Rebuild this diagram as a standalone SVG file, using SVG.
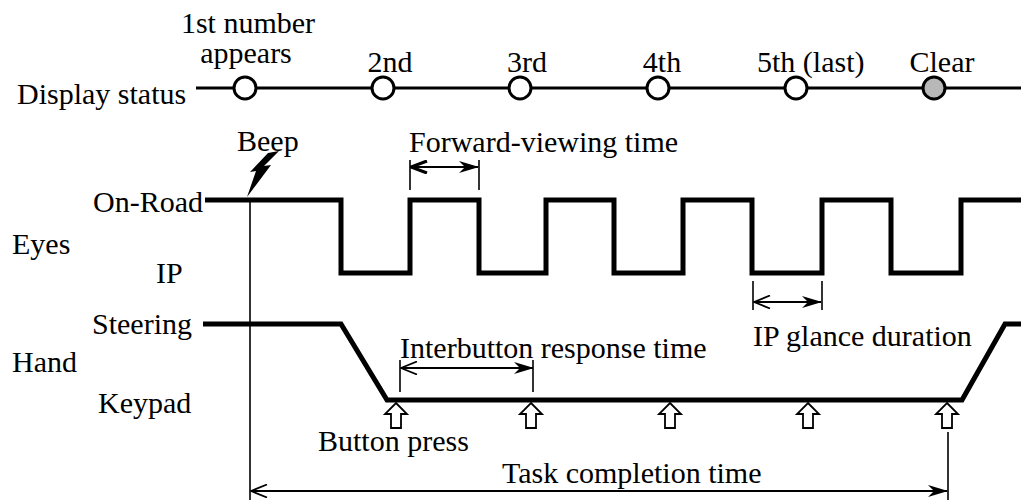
<svg xmlns="http://www.w3.org/2000/svg" width="1021" height="500" viewBox="0 0 1021 500" font-family="'Liberation Serif', 'Times New Roman', serif">
<style>
text{font-family:"Liberation Serif","Times New Roman",serif;font-size:30px;fill:#000}
.mid{text-anchor:middle}
.thick{fill:none;stroke:#000;stroke-width:5;stroke-linejoin:miter}
.thin{fill:none;stroke:#000;stroke-width:1.6}
.dot{fill:#fff;stroke:#000;stroke-width:3}
.btn{fill:#fff;stroke:#000;stroke-width:1.8;stroke-linejoin:miter}
</style>
<defs>
<marker id="hf" viewBox="0 0 20 12" refX="19" refY="6" markerWidth="20" markerHeight="12" markerUnits="userSpaceOnUse" orient="auto-start-reverse">
<path d="M0,0 L20,6 L0,12 L6,6 Z" fill="#000"/>
</marker>
<marker id="ho" viewBox="0 0 18 14" refX="1" refY="7" markerWidth="18" markerHeight="14" markerUnits="userSpaceOnUse" orient="auto">
<path d="M17,0.5 L1,7 L17,13.5" fill="none" stroke="#000" stroke-width="1.8"/>
</marker>
<marker id="hob" viewBox="0 0 18 14" refX="1" refY="7" markerWidth="18" markerHeight="14" markerUnits="userSpaceOnUse" orient="auto">
<path d="M17,1 L1,7 L17,13" fill="none" stroke="#000" stroke-width="3.2"/>
</marker>
<path id="up" d="M0,0 L11,11 L5,11 L5,25 L-5,25 L-5,11 L-11,11 Z"/>
</defs>

<g id="labels">
<text x="17" y="104">Display status</text>
<text x="93" y="212">On-Road</text>
<text x="12" y="254">Eyes</text>
<text x="156" y="283">IP</text>
<text x="92" y="334">Steering</text>
<text x="12" y="372">Hand</text>
<text x="98" y="413">Keypad</text>
</g>

<g id="display-status">
<line x1="196" y1="88" x2="1021" y2="88" stroke="#000" stroke-width="3"/>
<g id="n1"><circle class="dot" cx="245" cy="88" r="11"/><text class="mid" x="248" y="33">1st number</text><text class="mid" x="246" y="63">appears</text></g>
<g id="n2"><circle class="dot" cx="383" cy="88" r="11"/><text class="mid" x="390" y="72">2nd</text></g>
<g id="n3"><circle class="dot" cx="520" cy="88" r="11"/><text class="mid" x="527" y="72">3rd</text></g>
<g id="n4"><circle class="dot" cx="658" cy="88" r="11"/><text class="mid" x="662" y="72">4th</text></g>
<g id="n5"><circle class="dot" cx="796" cy="88" r="11"/><text x="757" y="72">5th (last)</text></g>
<g id="clear"><circle cx="934" cy="88" r="11" fill="#b8b8b8" stroke="#000" stroke-width="3"/><text class="mid" x="942" y="72">Clear</text></g>
</g>

<g id="eyes">
<path class="thick" d="M205,200 H341 V273 H410 V200 H479 V273 H546 V200 H614 V273 H683 V200 H752 V273 H822 V200 H891 V273 H961 V200 H1021"/>
</g>

<g id="hand">
<path class="thick" d="M203,324 H341 L387,400 H962 L1005,324 H1021"/>
<g id="buttons">
<use href="#up" class="btn" x="396" y="403"/>
<use href="#up" class="btn" x="531" y="403"/>
<use href="#up" class="btn" x="670" y="403"/>
<use href="#up" class="btn" x="808" y="403"/>
<use href="#up" class="btn" x="947" y="403"/>
</g>
<text x="318" y="451">Button press</text>
</g>

<g id="beep">
<polygon points="279,151 264,166 271,165 247,197 256,171 250,172 268,153" fill="#000"/>
<text x="237" y="151">Beep</text>
</g>

<g id="connectors">
<line class="thin" x1="250" y1="198" x2="250" y2="500"/>
<line class="thin" x1="410" y1="160" x2="410" y2="190"/>
<line class="thin" x1="479" y1="160" x2="479" y2="190"/>
<line x1="411" y1="167" x2="478" y2="167" stroke="#000" stroke-width="2" marker-start="url(#hob)" marker-end="url(#hf)"/>
<line class="thin" x1="753" y1="281" x2="753" y2="310"/>
<line class="thin" x1="822" y1="281" x2="822" y2="310"/>
<line x1="754" y1="302" x2="821" y2="302" stroke="#000" stroke-width="1.8" marker-start="url(#ho)" marker-end="url(#hf)"/>
<line class="thin" x1="400" y1="360" x2="400" y2="392"/>
<line class="thin" x1="533" y1="360" x2="533" y2="392"/>
<line x1="401" y1="368" x2="533" y2="368" stroke="#000" stroke-width="1.8" marker-start="url(#ho)" marker-end="url(#hf)"/>
<line class="thin" x1="948" y1="432" x2="948" y2="500"/>
<line x1="251" y1="491" x2="947" y2="491" stroke="#000" stroke-width="1.8" marker-start="url(#ho)" marker-end="url(#hf)"/>
</g>

<g id="annotations">
<text x="409" y="152">Forward-viewing time</text>
<text x="753" y="346">IP glance duration</text>
<text x="400" y="358">Interbutton response time</text>
<text x="502" y="483">Task completion time</text>
</g>
</svg>
